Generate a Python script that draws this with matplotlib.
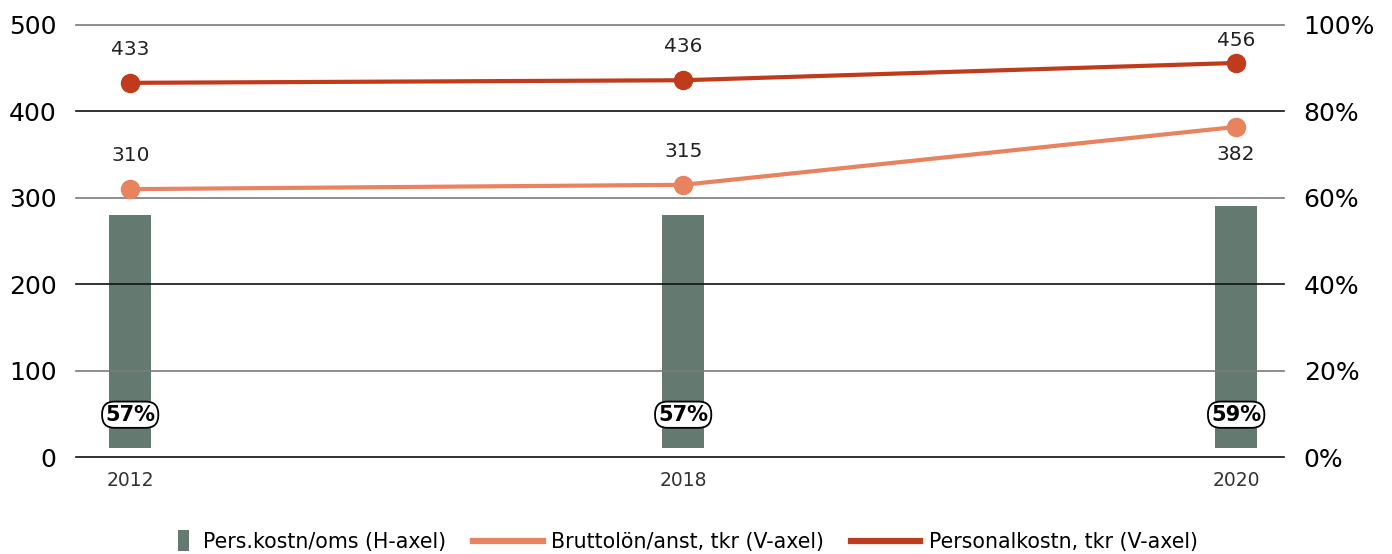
import numpy as np
import matplotlib.pyplot as plt
from matplotlib.lines import Line2D
from matplotlib.patches import Patch, Rectangle
from matplotlib.legend_handler import HandlerPatch

plt.rcParams['font.family'] = ['DejaVu Sans']

# data
years = ["2012", "2018", "2020"]
pers_andel = [57, 57, 59]          # Pers.kostn/oms, %
bruttolon = [310, 315, 382]        # Bruttolön/anst, tkr
personalkostn = [433, 436, 456]    # Personalkostn, tkr
left_ticks = [0, 100, 200, 300, 400, 500]
right_ticks = [0, 20, 40, 60, 80, 100]

c_bar = "#647a70"
c_light = "#e8825f"
c_dark = "#bf3b1c"

x = np.arange(len(years))

fig = plt.figure(figsize=(13.92, 5.54), dpi=100)
ax = fig.add_axes([0.0546, 0.175, 0.868, 0.78])
ax2 = ax.twinx()

# gridlines, alternating black/grey
for i, t in enumerate(left_ticks):
    ax.axhline(t, color="#111111" if i % 2 == 0 else "#7a7a7a", lw=1.2, zorder=0, clip_on=False)

# bars on right axis
ax2.bar(x, np.array(pers_andel) - 3, bottom=2, width=0.076, color=c_bar, zorder=1)
for xi, v in zip(x, pers_andel):
    ax2.text(xi, 9.8, f"{v}%", ha="center", va="center", fontsize=15, fontweight="bold",
             bbox=dict(boxstyle="round,pad=0.15,rounding_size=0.6", fc="white", ec="black", lw=1.3),
             zorder=5)

# lines on left axis
ax.set_zorder(ax2.get_zorder() + 1)
ax.patch.set_visible(False)
ax.plot(x, bruttolon, color=c_light, lw=3, marker="o", ms=13, zorder=3)
ax.plot(x, personalkostn, color=c_dark, lw=3, marker="o", ms=13, zorder=3)

for i, (xi, v) in enumerate(zip(x, personalkostn)):
    off = 24 if i < 2 else 16
    ax.annotate(str(v), (xi, v), xytext=(0, off), textcoords="offset points",
                ha="center", va="center", fontsize=14.5, color="#222222")
for i, (xi, v) in enumerate(zip(x, bruttolon)):
    off = 24 if i < 2 else -20
    ax.annotate(str(v), (xi, v), xytext=(0, off), textcoords="offset points",
                ha="center", va="center", fontsize=14.5, color="#222222")

ax.set_xlim(-0.098, 2.087)
ax.set_ylim(0, 500)
ax2.set_ylim(0, 100)
ax.set_yticks(left_ticks)
ax2.set_yticks(right_ticks)
ax2.set_yticklabels([f"{t}%" for t in right_ticks])
ax.set_xticks(x)
ax.set_xticklabels(years, fontsize=13.5, color="#333333")
ax.tick_params(axis="y", labelsize=18, length=0, pad=14)
ax2.tick_params(axis="y", labelsize=18, length=0, pad=14)
ax.tick_params(axis="x", length=0, pad=10)
for a in (ax, ax2):
    for s in a.spines.values():
        s.set_visible(False)


def narrow_rect(legend, orig_handle, xdescent, ydescent, width, height, fontsize):
    w = width * 0.16
    return Rectangle((-xdescent + width - w - width * 0.08, -ydescent - height * 0.25), w, height * 1.5)


handles = [
    Patch(facecolor=c_bar, edgecolor="none"),
    Line2D([0], [0], color=c_light, lw=4.5),
    Line2D([0], [0], color=c_dark, lw=4.5),
]
labels = ["Pers.kostn/oms (H-axel)", "Bruttolön/anst, tkr (V-axel)", "Personalkostn, tkr (V-axel)"]
fig.legend(handles, labels, loc="center", bbox_to_anchor=(0.475, 0.022), ncol=3, frameon=False,
           fontsize=14.8, handlelength=3.4, handletextpad=0.4, columnspacing=1.3,
           handler_map={Patch: HandlerPatch(patch_func=narrow_rect)})

fig.savefig("out.png", dpi=100)
